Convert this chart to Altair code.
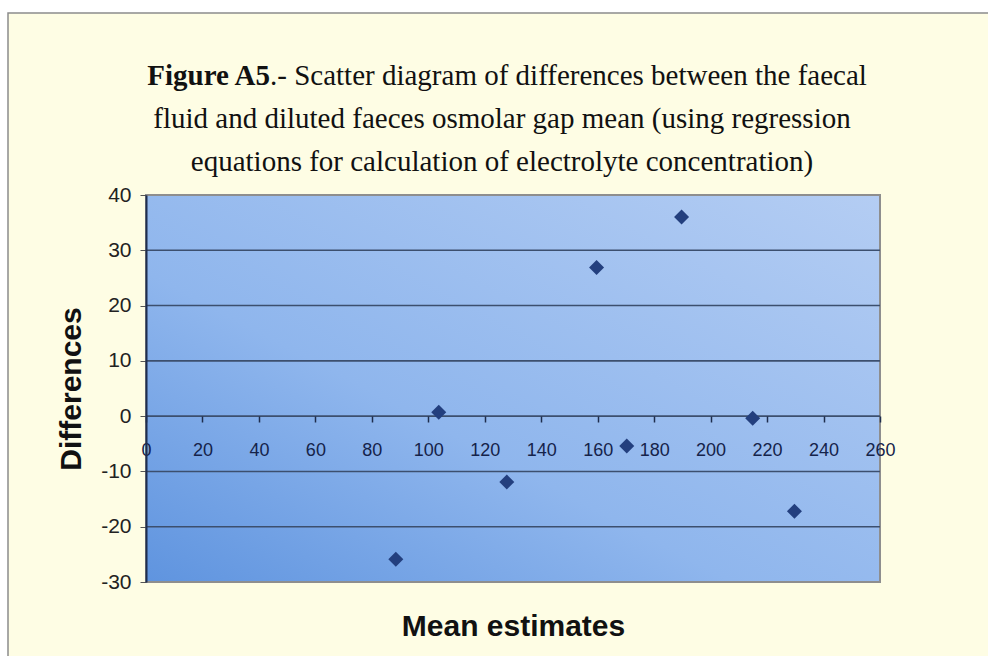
import altair as alt
import pandas as pd

# Mean estimates (x) and differences (y) of the osmolar gap
mean_estimates = [88.5, 103.7, 127.8, 159.6, 170.3, 189.7, 214.9, 229.7]
differences = [-25.9, 0.7, -11.9, 26.9, -5.4, 36.0, -0.4, -17.2]

y_ticks = [-30, -20, -10, 0, 10, 20, 30, 40]
grid_values = [-20, -10, 0, 10, 20, 30]
x_ticks = list(range(0, 261, 20))

title_bold = "Figure A5"
title_line1 = ".- Scatter diagram of differences between the faecal"
title_line2 = "fluid and diluted faeces osmolar gap mean (using regression"
title_line3 = "equations for calculation of electrolyte concentration)"

W, H = 734, 387
PAD = {"left": 146, "top": 195, "right": 108, "bottom": 74}

points = pd.DataFrame({"mean": mean_estimates, "diff": differences})
grid = pd.DataFrame({"v": grid_values})

x_scale = alt.Scale(domain=[0, 260], nice=False, zero=False)
y_scale = alt.Scale(domain=[-30, 40], nice=False, zero=False)

dark = "#1e2d4d"

# cream panel with a thin grey frame behind everything
frame = alt.Chart(pd.DataFrame({"k": [0]})).mark_rect(
    fill="#fefde4", stroke="#8c8c8c", strokeWidth=1.5
).encode(
    x=alt.value(-138), x2=alt.value(W + PAD["right"] + 20),
    y=alt.value(-182), y2=alt.value(H + PAD["bottom"] + 20),
)

# blue gradient plot area
plot_bg = alt.Chart(pd.DataFrame({"k": [0]})).mark_rect(
    fill=alt.Gradient(
        gradient="linear",
        stops=[
            alt.GradientStop(color="#5f94df", offset=0),
            alt.GradientStop(color="#8fb6ed", offset=0.4),
            alt.GradientStop(color="#b4cdf3", offset=1),
        ],
        x1=0, y1=1, x2=1, y2=0,
    ),
    stroke="#8e8e8e", strokeWidth=2,
).encode(x=alt.value(0), x2=alt.value(W), y=alt.value(0), y2=alt.value(H))

gridlines = alt.Chart(grid).mark_rule(color="#3c4f6e", strokeWidth=1.6).encode(
    y=alt.Y("v:Q", scale=y_scale),
    x=alt.value(0), x2=alt.value(W),
)

scatter = alt.Chart(points).mark_point(
    shape="diamond", filled=True, size=225, color="#233f7e", opacity=1
).encode(
    x=alt.X(
        "mean:Q", scale=x_scale,
        axis=alt.Axis(
            values=x_ticks, orient="bottom", offset=-166, domain=False,
            ticks=True, tickSize=6, tickColor=dark, tickWidth=1.5,
            labelFont="Liberation Sans", labelFontSize=18, labelColor="#15234a",
            labelPadding=19, labelFlush=False, grid=False, zindex=1,
            title="Mean estimates", titleFont="Liberation Sans", titleFontSize=30,
            titleFontWeight="bold", titleColor="#111111", titleY=219,
            titleBaseline="alphabetic",
        ),
    ),
    y=alt.Y(
        "diff:Q", scale=y_scale,
        axis=alt.Axis(
            values=y_ticks, grid=False, domain=True, domainColor=dark,
            domainWidth=2, ticks=True, tickSize=6, tickColor="#555555",
            labelFont="Liberation Sans", labelFontSize=21, labelColor="#222222",
            labelPadding=9, zindex=1, labelExpr="'' + datum.value",
            title="Differences", titleFont="Liberation Sans", titleFontSize=30,
            titleFontWeight="bold", titleColor="#111111", titleAngle=-90,
            titleX=-66, titleY=H / 2, titleAlign="center",
            titleBaseline="alphabetic",
        ),
    ),
)

def title_text(text, x, y, align, weight="normal"):
    return alt.Chart(pd.DataFrame({"t": [text]})).mark_text(
        font="Liberation Serif", fontSize=29, fontWeight=weight,
        color="#111111", align=align, baseline="alphabetic",
    ).encode(text="t:N", x=alt.value(x), y=alt.value(y))

titles = (
    title_text(title_bold, 124, -110, "right", "bold")
    + title_text(title_line1, 124, -110, "left")
    + title_text(title_line2, 356, -67, "center")
    + title_text(title_line3, 356, -24, "center")
)

chart = alt.layer(frame, plot_bg, gridlines, scatter, titles).properties(
    width=W, height=H, padding=PAD, autosize=alt.AutoSizeParams(type="none"),
    background="white",
).configure_view(stroke=None)

chart.save("out.html", embed_options={"renderer": "svg", "actions": False})
